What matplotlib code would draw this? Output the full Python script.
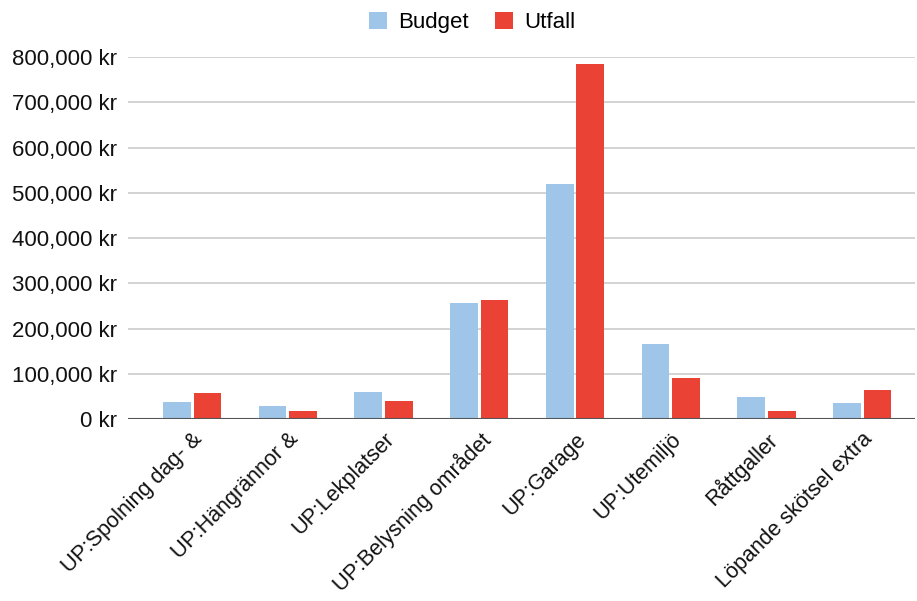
import numpy as np
import matplotlib.pyplot as plt
from matplotlib.ticker import FuncFormatter

plt.rcParams['font.family'] = ['Liberation Sans', 'DejaVu Sans']

categories = ['UP:Spolning dag- &', 'UP:Hängrännor &', 'UP:Lekplatser',
              'UP:Belysning området', 'UP:Garage', 'UP:Utemiljö',
              'Råttgaller', 'Löpande skötsel extra']
budget = [38500, 29600, 60700, 257000, 519000, 166000, 48000, 35500]
utfall = [57800, 17000, 39000, 264000, 785000, 91000, 17000, 64000]

fig = plt.figure(figsize=(9.17, 6.01), dpi=100)
ax = fig.add_axes([0.1396, 0.3028, 0.858, 0.6023])

x = np.arange(len(categories))
w = 0.29
ax.bar(x - 0.16, budget, w, color='#9FC5E8', label='Budget', zorder=3)
ax.bar(x + 0.16, utfall, w, color='#EA4335', label='Utfall', zorder=3)

ax.set_xlim(-0.67, 7.55)
ax.set_ylim(0, 800000)
ax.set_yticks(np.arange(0, 800001, 100000))
ax.yaxis.set_major_formatter(FuncFormatter(lambda v, p: f'{int(v):,} kr'))
ax.grid(axis='y', color='#cccccc', linewidth=1.2, zorder=0)
ax.axhline(0, color='#555555', linewidth=1.5, zorder=4)

for s in ax.spines.values():
    s.set_visible(False)
ax.tick_params(axis='both', length=0, labelsize=16, colors='#111111')
ax.tick_params(axis='y', pad=8)
ax.tick_params(axis='x', pad=7, labelsize=15.5)
ax.set_xticks(x)
ax.set_xticklabels(categories, rotation=45, ha='right', rotation_mode='anchor')

fig.legend(loc='upper center', bbox_to_anchor=(0.515, 1.013), ncol=2, frameon=False,
           fontsize=16, handlelength=0.8, handleheight=0.8, handletextpad=0.5,
           columnspacing=1.2)

fig.savefig('out.png', dpi=100)
